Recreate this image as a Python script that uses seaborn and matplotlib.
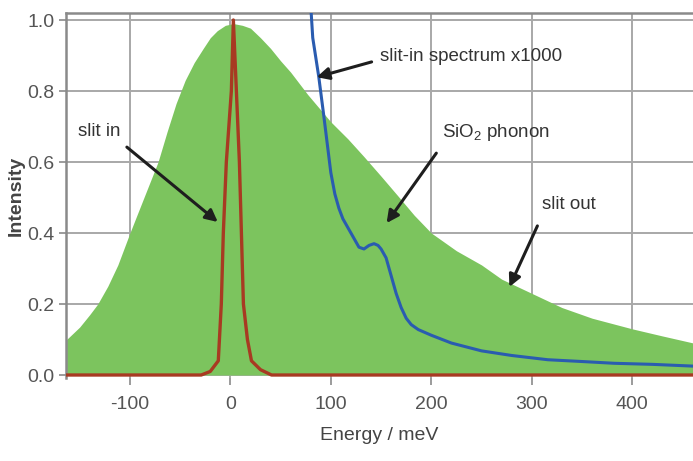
import numpy as np
import pandas as pd
import matplotlib
matplotlib.use("Agg")
import matplotlib.pyplot as plt
import seaborn as sns
from matplotlib import font_manager

# ---- data ----
green_x = [-163, -150, -140, -132, -122, -112, -100, -86, -72, -63, -54, -45, -36, -27, -20, -13,
           -5, 3, 12, 20, 30, 40, 50, 60, 77, 100, 117, 133, 150, 166, 183, 200, 225, 250, 270,
           300, 330, 360, 400, 430, 461]
green_y = [0.10, 0.135, 0.17, 0.20, 0.25, 0.31, 0.40, 0.50, 0.60, 0.685, 0.765, 0.83, 0.88, 0.92,
           0.95, 0.97, 0.985, 0.99, 0.985, 0.977, 0.95, 0.92, 0.885, 0.853, 0.79, 0.713, 0.665,
           0.615, 0.56, 0.507, 0.45, 0.40, 0.35, 0.31, 0.27, 0.23, 0.19, 0.16, 0.13, 0.11, 0.09]

blue_x = [80, 82, 88, 93, 100, 104, 108, 112, 117, 123, 128, 133, 138, 143, 147, 150, 155, 160,
          165, 170, 175, 180, 187, 200, 220, 250, 280, 316, 350, 382, 420, 461]
blue_y = [1.04, 0.95, 0.84, 0.73, 0.57, 0.51, 0.47, 0.44, 0.415, 0.385, 0.36, 0.355, 0.365, 0.37,
          0.365, 0.355, 0.33, 0.28, 0.23, 0.19, 0.16, 0.142, 0.128, 0.112, 0.09, 0.068, 0.055,
          0.043, 0.038, 0.033, 0.03, 0.025]

red_x = [-164, -29, -20, -12, -9, -7, -4, 1, 3, 6, 9, 11, 13, 17, 21, 30, 41, 461]
red_y = [0, 0, 0.01, 0.04, 0.2, 0.4, 0.6, 0.8, 1.0, 0.8, 0.6, 0.4, 0.2, 0.1, 0.04, 0.015, 0, 0]

x_ticks = [-100, 0, 100, 200, 300, 400]
y_ticks = [0.0, 0.2, 0.4, 0.6, 0.8, 1.0]

# ---- style ----
sns.set_theme(style="whitegrid")
names = {f.name for f in font_manager.fontManager.ttflist}
main_font = "Liberation Sans Narrow" if "Liberation Sans Narrow" in names else "Liberation Sans"
plt.rcParams["font.family"] = [main_font, "DejaVu Sans"]
plt.rcParams["mathtext.fontset"] = "custom"
plt.rcParams["mathtext.rm"] = main_font
plt.rcParams["mathtext.it"] = main_font
plt.rcParams["mathtext.default"] = "regular"
plt.rcParams["axes.unicode_minus"] = False

fig = plt.figure(figsize=(6.93, 4.61), dpi=100)
ax = fig.add_axes([0.0952, 0.18, 0.905, 0.792])

green_df = pd.DataFrame({"Energy": green_x, "Intensity": green_y})
blue_df = pd.DataFrame({"Energy": blue_x, "Intensity": blue_y})
red_df = pd.DataFrame({"Energy": red_x, "Intensity": red_y})

ax.fill_between(green_df["Energy"], 0, green_df["Intensity"], color="#7cc45e", lw=0, zorder=2)
sns.lineplot(data=blue_df, x="Energy", y="Intensity", ax=ax, color="#2a5cb0", lw=2.2,
             zorder=3, estimator=None, sort=False)
sns.lineplot(data=red_df, x="Energy", y="Intensity", ax=ax, color="#a83a22", lw=2.4,
             zorder=4, estimator=None, sort=False)

ax.set_xlim(-163.6, 460.6)
ax.set_ylim(-0.0085, 1.02)
ax.set_xticks(x_ticks)
ax.set_yticks(y_ticks)
ax.set_yticklabels([f"{v:.1f}" for v in y_ticks])

ax.grid(True, color="#a8a8a8", lw=1.4)
ax.set_axisbelow(True)
for side in ["left", "top"]:
    ax.spines[side].set_visible(True)
    ax.spines[side].set_color("#8a8a8a")
    ax.spines[side].set_linewidth(1.8)
for side in ["right", "bottom"]:
    ax.spines[side].set_visible(False)

ax.tick_params(axis="both", which="major", length=5, width=1.2, color="#8a8a8a",
               labelsize=14, labelcolor="#555555", pad=3, direction="out")
ax.tick_params(axis="x", bottom=True, pad=8)
ax.tick_params(axis="y", left=True)

ax.set_xlabel("Energy / meV", fontsize=14, color="#444444", labelpad=10)
ax.set_ylabel("Intensity", fontsize=14, color="#444444", fontweight="bold", labelpad=2)

arrow = dict(arrowstyle="-|>", lw=2.2, color="#1e1e1e", mutation_scale=18, shrinkA=0, shrinkB=0)
txt = dict(fontsize=13.5, color="#333333", ha="center", va="center", zorder=6)
ax.annotate("", xy=(-12.5, 0.431), xytext=(-103, 0.642), arrowprops=arrow, zorder=6)
ax.text(-130.8, 0.685, "slit in", **txt)
ax.annotate("", xy=(85.9, 0.839), xytext=(140.6, 0.882), arrowprops=arrow, zorder=6)
ax.text(240, 0.896, "slit-in spectrum x1000", **txt)
ax.annotate("", xy=(155.5, 0.428), xytext=(205, 0.625), arrowprops=arrow, zorder=6)
ax.text(264, 0.682, "SiO$_2$ phonon", **txt)
ax.annotate("", xy=(277.7, 0.248), xytext=(305.6, 0.42), arrowprops=arrow, zorder=6)
ax.text(337, 0.479, "slit out", **txt)

fig.savefig("out.png", dpi=100)
